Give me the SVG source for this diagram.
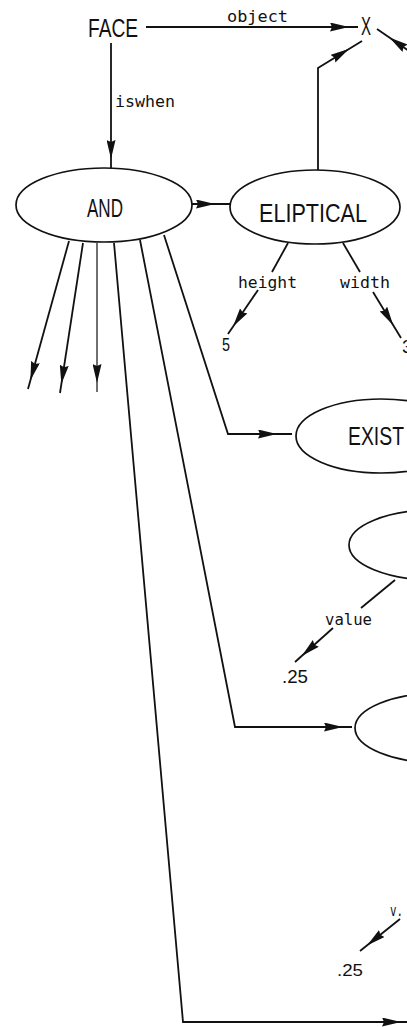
<svg xmlns="http://www.w3.org/2000/svg" width="407" height="1027" viewBox="0 0 407 1027">
<style>
  .bg{fill:#fff}
  .ln{fill:none;stroke:#111;stroke-width:1.8;stroke-linejoin:miter}
  .thin{stroke-width:1.2}
  .el{fill:#fff;stroke:#111;stroke-width:1.7}
  .cap{font-family:"Liberation Sans",Arial,sans-serif;font-size:26px;fill:#111}
  .lab{font-family:"DejaVu Sans Mono","Liberation Mono",monospace;font-size:15px;fill:#111}
  .num{font-family:"Liberation Sans",Arial,sans-serif;font-size:19px;fill:#111}
</style>
<defs>
  <marker id="a" viewBox="0 0 28 9" refX="28" refY="4.5" markerWidth="28" markerHeight="9" markerUnits="userSpaceOnUse" orient="auto">
    <path d="M0,0 L19,4.5 L0,9 L2,4.5 Z" fill="#111"/>
  </marker>
  <marker id="b" viewBox="0 0 34 9" refX="34" refY="4.5" markerWidth="34" markerHeight="9" markerUnits="userSpaceOnUse" orient="auto">
    <path d="M0,0 L19,4.5 L0,9 L2,4.5 Z" fill="#111"/>
  </marker>
</defs>
<rect class="bg" x="0" y="0" width="407" height="1027"/>

<g id="connectors">
  <path class="ln" d="M146,27 L358,27" marker-end="url(#a)"/>
  <path class="ln" d="M111,43 L111,168" marker-end="url(#a)"/>
  <path class="ln" d="M192,204 L230,204" marker-end="url(#b)"/>
  <path class="ln" d="M318,170 L318,68 L362,41" marker-end="url(#b)"/>
  <path class="ln" d="M412,53 L377,29" marker-end="url(#b)"/>
  <path class="ln" d="M288,243 L272,272"/>
  <path class="ln" d="M258,290 L228,334" marker-end="url(#a)"/>
  <path class="ln" d="M343,243 L360,272"/>
  <path class="ln" d="M373,292 L401,338" marker-end="url(#b)"/>
  <path class="ln" d="M69,241 L28,389" marker-end="url(#a)"/>
  <path class="ln" d="M83,243 L60,393" marker-end="url(#a)"/>
  <path class="ln thin" d="M97,243 L97,392" marker-end="url(#a)"/>
  <path class="ln" d="M114,243 L183,1022 L410,1022" marker-end="url(#a)"/>
  <path class="ln" d="M140,240 L235,727 L352,727" marker-end="url(#a)"/>
  <path class="ln" d="M164,235 L228,434 L292,434" marker-end="url(#b)"/>
  <path class="ln" d="M395,580 L361,608"/>
  <path class="ln" d="M333,628 L295,662" marker-end="url(#a)"/>
  <path class="ln" d="M400,919 L360,951" marker-end="url(#a)"/>
</g>

<g id="labels">
  <text class="lab" x="227" y="22" textLength="61" lengthAdjust="spacingAndGlyphs">object</text>
  <text class="lab" x="115" y="107" textLength="60" lengthAdjust="spacingAndGlyphs">iswhen</text>
  <text class="lab" x="238" y="288" textLength="59" lengthAdjust="spacingAndGlyphs">height</text>
  <text class="lab" x="340" y="288" textLength="50" lengthAdjust="spacingAndGlyphs">width</text>
  <text class="lab" x="325" y="625" textLength="47" lengthAdjust="spacingAndGlyphs">value</text>
  <text class="lab" x="390" y="916" textLength="13" lengthAdjust="spacingAndGlyphs">v.</text>
</g>

<g id="node-face">
  <text class="cap" x="88" y="37" textLength="50" lengthAdjust="spacingAndGlyphs">FACE</text>
</g>
<g id="node-x">
  <text class="cap" x="361" y="35" textLength="10" lengthAdjust="spacingAndGlyphs">X</text>
</g>
<g id="node-and">
  <ellipse class="el" cx="104" cy="205" rx="88" ry="37"/>
  <text class="cap" x="87" y="217" textLength="36" lengthAdjust="spacingAndGlyphs">AND</text>
</g>
<g id="node-eliptical">
  <ellipse class="el" cx="315" cy="207" rx="85" ry="37"/>
  <text class="cap" x="259" y="222" textLength="108" lengthAdjust="spacingAndGlyphs">ELIPTICAL</text>
</g>
<g id="node-5">
  <text class="num" x="222" y="351" textLength="8" lengthAdjust="spacingAndGlyphs">5</text>
</g>
<g id="node-3">
  <text class="num" x="402" y="353">3</text>
</g>
<g id="node-exist">
  <ellipse class="el" cx="381" cy="436" rx="85" ry="37"/>
  <text class="cap" x="348" y="445" textLength="56" lengthAdjust="spacingAndGlyphs">EXIST</text>
</g>
<g id="node-e2">
  <ellipse class="el" cx="434" cy="545" rx="85" ry="35"/>
</g>
<g id="node-025a">
  <text class="num" x="282" y="683" textLength="26" lengthAdjust="spacingAndGlyphs">.25</text>
</g>
<g id="node-e3">
  <ellipse class="el" cx="440" cy="728" rx="85" ry="35"/>
</g>
<g id="node-025b">
  <text class="num" x="337" y="976" textLength="26" lengthAdjust="spacingAndGlyphs" style="font-size:17px">.25</text>
</g>
</svg>
